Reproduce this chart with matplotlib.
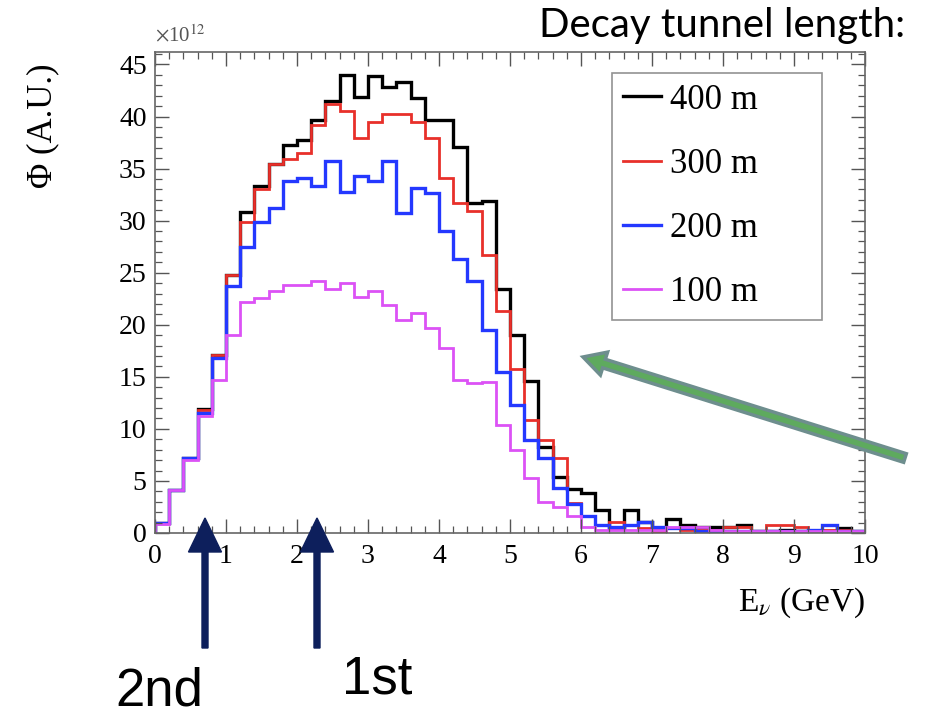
import numpy as np
import matplotlib
matplotlib.use("Agg")
import matplotlib.pyplot as plt
from matplotlib.patches import FancyArrow
from matplotlib.ticker import MultipleLocator

plt.rcParams["font.family"] = ["Liberation Serif", "DejaVu Serif"]
plt.rcParams["mathtext.fontset"] = "stix"

# ---- data (flux in units of 1e12, 0.2 GeV bins from 0 to 10 GeV) ----
bin_width = 0.2
n_bins = 50
labels = ["400 m", "300 m", "200 m", "100 m"]
colors = ["#000000", "#e8302a", "#2438ff", "#dc52f5"]
widths = [2.4, 2.0, 2.4, 2.0]

flux_400 = [1.0, 4.1, 7.2, 11.9, 17.1, 24.8, 30.8, 33.3, 35.4, 37.3,
            37.7, 39.7, 41.5, 44.0, 41.9, 43.9, 42.8, 43.3, 41.8, 39.7,
            39.7, 37.1, 31.7, 31.9, 23.4, 19.0, 14.6, 8.3, 5.4, 4.2,
            3.8, 2.2, 0.4, 2.2, 1.1, 0.5, 1.3, 0.8, 0.6, 0.6,
            0.6, 0.8, 0.2, 0.2, 0.3, 0.2, 0.2, 0.2, 0.5, 0.2]
flux_300 = [1.0, 4.1, 7.2, 11.8, 17.1, 24.8, 29.9, 33.0, 35.4, 35.9,
            36.5, 39.2, 41.2, 40.5, 37.9, 39.5, 40.2, 40.2, 39.5, 37.9,
            34.1, 31.7, 30.9, 26.7, 21.3, 15.8, 10.9, 8.9, 7.2, 2.9,
            1.6, 0.8, 1.1, 0.8, 0.5, 0.1, 0.5, 0.3, 0.3, 0.3,
            0.6, 0.6, 0.2, 0.8, 0.8, 0.6, 0.3, 0.3, 0.3, 0.2]
flux_200 = [1.0, 4.1, 7.2, 11.5, 16.8, 23.7, 27.5, 29.9, 31.2, 33.8,
            34.1, 33.3, 35.7, 32.8, 34.3, 33.8, 35.7, 30.7, 33.1, 32.7,
            29.0, 26.3, 24.2, 19.5, 15.5, 12.3, 8.9, 7.2, 4.3, 2.8,
            1.6, 0.8, 0.6, 0.8, 1.1, 0.6, 0.5, 0.5, 0.2, 0.2,
            0.2, 0.2, 0.2, 0.2, 0.2, 0.2, 0.3, 0.8, 0.2, 0.2]
flux_100 = [0.9, 4.1, 7.0, 11.2, 14.7, 19.0, 22.2, 22.6, 23.2, 23.8,
            23.8, 24.2, 23.4, 24.0, 22.7, 23.2, 21.9, 20.5, 21.1, 19.7,
            17.8, 14.7, 14.4, 14.5, 10.4, 8.0, 5.3, 3.0, 2.5, 1.6,
            0.6, 0.3, 0.3, 0.3, 0.3, 0.3, 0.6, 0.6, 0.6, 0.3,
            0.2, 0.2, 0.2, 0.2, 0.2, 0.2, 0.2, 0.2, 0.2, 0.2]
series = [flux_400, flux_300, flux_200, flux_100]

edges = np.arange(n_bins + 1) * bin_width

W, H = 927, 717
fig = plt.figure(figsize=(W / 100, H / 100), dpi=100)
ax = fig.add_axes([155 / W, 1 - 533 / H, 710 / W, 481 / H])

for vals, lab, col, lw in zip(series, labels, colors, widths):
    ax.stairs(vals, edges, color=col, lw=lw, label=lab, baseline=0)

ax.set_xlim(0, 10)
ax.set_ylim(0, 46.2)
ax.xaxis.set_major_locator(MultipleLocator(1))
ax.xaxis.set_minor_locator(MultipleLocator(0.2))
ax.yaxis.set_major_locator(MultipleLocator(5))
ax.yaxis.set_minor_locator(MultipleLocator(1))

ax.tick_params(which="both", direction="in", top=True, right=True,
               color="#555555", labelsize=20)
ax.tick_params(which="major", length=10, width=1.0)
ax.tick_params(which="minor", length=5, width=0.9)
ax.tick_params(axis="x", pad=8)
ax.tick_params(axis="y", pad=6)
for sp in ax.spines.values():
    sp.set_color("#666666")
    sp.set_linewidth(1.2)

ax.text(0.0, 1.012, "$\\times$10$^{12}$", transform=ax.transAxes,
        fontsize=15, color="#555555", ha="left", va="bottom")

ax.set_ylabel("\u03a6 (A.U.)", fontsize=25, loc="top")
ax.yaxis.set_label_coords(-0.135, (533 - 64) / 481)
ax.set_xlabel("E$_{\\nu}$ (GeV)", fontsize=24, loc="right", labelpad=12)

leg = ax.legend(loc="upper left", bbox_to_anchor=(0.644, 0.447, 0.295, 0.509),
                mode="expand", borderaxespad=0, fontsize=25, frameon=True,
                fancybox=False, edgecolor="#777777", handlelength=1.1,
                handletextpad=0.25, labelspacing=0.9, borderpad=0.3)
leg.get_frame().set_linewidth(1.2)

# ---- annotations outside the plot (positions in pixels from top-left) ----
tr = fig.dpi_scale_trans


def px(x, y):
    return x / 100, (H - y) / 100


fig.text(*px(905, 26), "Decay tunnel length:", family="Lato", fontsize=29,
         ha="right", va="center", color="black", transform=tr)

navy = "#0d1f5c"
for xa in (205, 317):
    x0, y0 = px(xa, 648)
    _, y1 = px(xa, 518)
    fig.add_artist(FancyArrow(x0, y0, 0, y1 - y0, width=0.06, head_width=0.33,
                              head_length=0.34, length_includes_head=True,
                              color=navy, transform=tr))

fig.text(*px(115, 692), "2nd", family="Liberation Sans", fontsize=38,
         ha="left", va="center", transform=tr)
fig.text(*px(342, 679), "1st", family="Liberation Sans", fontsize=38,
         ha="left", va="center", transform=tr)

gx0, gy0 = px(905, 458)
gx1, gy1 = px(583, 357)
fig.add_artist(FancyArrow(gx0, gy0, gx1 - gx0, gy1 - gy0, width=0.09,
                          head_width=0.24, head_length=0.22,
                          length_includes_head=True, facecolor="#5eaa5e",
                          edgecolor="#6e8e8e", lw=2.5, transform=tr))

fig.savefig("out.png", dpi=100)
